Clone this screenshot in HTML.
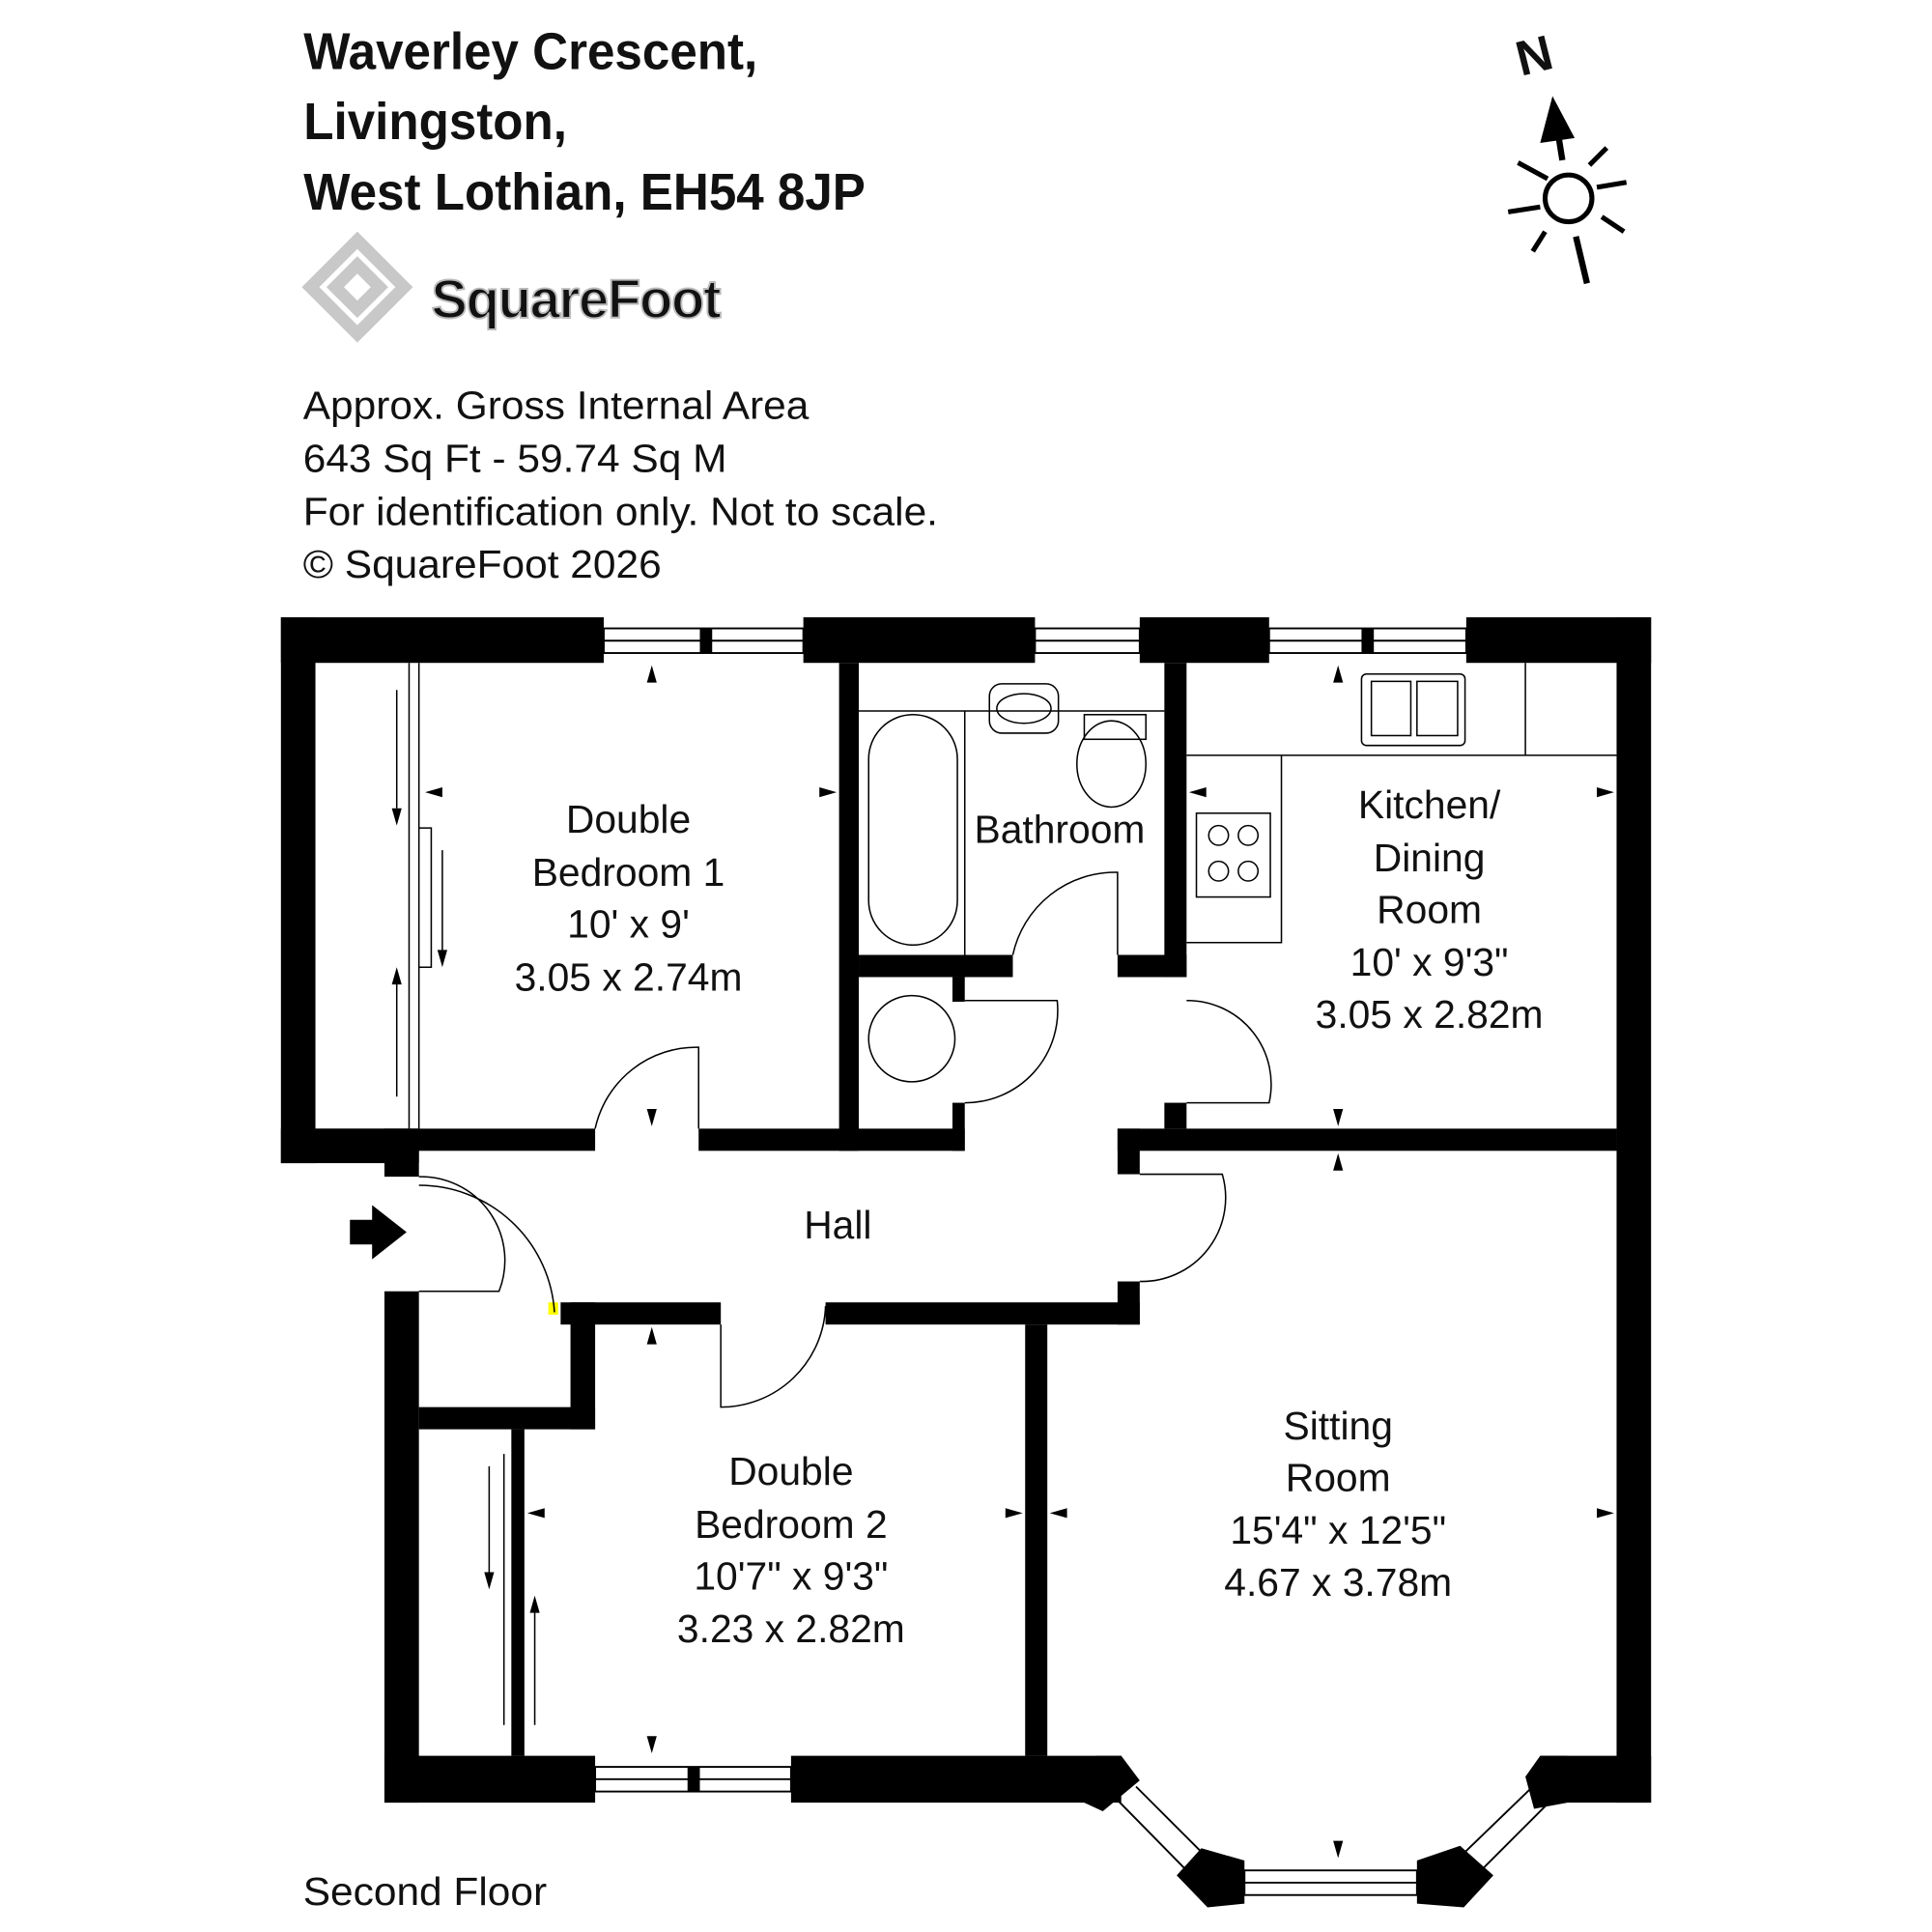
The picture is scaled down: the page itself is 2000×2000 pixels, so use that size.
<!DOCTYPE html>
<html><head><meta charset="utf-8"><style>
html,body{margin:0;padding:0;background:#fff}
svg{display:block}
text{font-family:"Liberation Sans",sans-serif;fill:#111}
</style></head><body>
<svg width="2000" height="2000" viewBox="0 0 1568 1568" xmlns="http://www.w3.org/2000/svg">
<rect width="1568" height="1568" fill="#fff"/>
<g font-weight="bold" font-size="42" transform="scale(0.955,1)">
<text x="258" y="56">Waverley Crescent,</text>
<text x="258" y="113">Livingston,</text>
<text x="258" y="170">West Lothian, EH54 8JP</text>
</g>
<g fill="none" stroke="#c8c8c8" stroke-width="10">
<path d="M290 195 L328 233 L290 271 L252 233 Z"/>
<path d="M290 215 L308 233 L290 251 L272 233 Z"/>
</g>
<text x="350" y="258" font-size="44" font-weight="bold" fill="#ddd" stroke="#bbb" stroke-width="1.5" letter-spacing="-1">SquareFoot</text>
<g font-size="32" transform="scale(1.04,1)">
<text x="236.5" y="340">Approx. Gross Internal Area</text>
<text x="236.5" y="383">643 Sq Ft  -  59.74 Sq M</text>
<text x="236.5" y="426">For identification only. Not to scale.</text>
<text x="236.5" y="469">© SquareFoot 2026</text>
<text x="236.5" y="1546">Second Floor</text>
</g>
<text x="1230" y="58" font-size="40" font-weight="bold" transform="rotate(-14 1248 42)">N</text>
<line x1="1264" y1="105" x2="1268" y2="130" stroke="#000" stroke-width="5"/>
<line x1="1279" y1="192" x2="1288" y2="230" stroke="#000" stroke-width="5"/>
<path d="M1260 78 L1278 112 L1250 116 Z" fill="#000"/>
<circle cx="1273" cy="161" r="19" fill="none" stroke="#000" stroke-width="4"/>
<g stroke="#000" stroke-width="4">
<line x1="1296" y1="152" x2="1320" y2="148"/><line x1="1300" y1="176" x2="1318" y2="188"/>
<line x1="1250" y1="168" x2="1224" y2="172"/><line x1="1256" y1="145" x2="1232" y2="132"/>
<line x1="1290" y1="134" x2="1304" y2="120"/><line x1="1254" y1="188" x2="1244" y2="204"/>
</g>
<g fill="#000">
<rect x="228" y="501" width="262" height="37"/>
<rect x="652" y="501" width="188" height="37"/>
<rect x="925" y="501" width="105" height="37"/>
<rect x="1190" y="501" width="150" height="37"/>
<rect x="228" y="501" width="28" height="443"/>
<rect x="228" y="916" width="112" height="28"/>
<rect x="312" y="916" width="28" height="39"/>
<rect x="256" y="916" width="227" height="18"/>
<rect x="567" y="916" width="216" height="18"/>
<rect x="681" y="538" width="16" height="396"/>
<rect x="945" y="538" width="18" height="255"/>
<rect x="945" y="895" width="18" height="21"/>
<rect x="697" y="775" width="125" height="18"/>
<rect x="907" y="775" width="56" height="18"/>
<rect x="773" y="793" width="10" height="20"/>
<rect x="773" y="895" width="10" height="39"/>
<rect x="1312" y="501" width="28" height="962"/>
<rect x="907" y="916" width="405" height="18"/>
<rect x="907" y="916" width="18" height="37"/>
<rect x="907" y="1040" width="18" height="35"/>
<rect x="455" y="1057" width="130" height="18"/>
<rect x="670" y="1057" width="255" height="18"/>
<rect x="832" y="1075" width="18" height="350"/>
<rect x="312" y="1048" width="28" height="415"/>
<rect x="312" y="1425" width="171" height="38"/>
<rect x="642" y="1425" width="268" height="38"/>
<rect x="463" y="1057" width="20" height="103"/>
<rect x="340" y="1142" width="143" height="18"/>
<rect x="415" y="1160" width="10" height="265"/>
<rect x="1250" y="1425" width="90" height="38"/>
<path d="M890 1425 L910 1425 L925 1445 L895 1470 L880 1463 Z"/>
<path d="M975 1500 L1010 1510 L1010 1545 L980 1548 L955 1522 Z"/>
<path d="M1150 1510 L1185 1498 L1212 1522 L1188 1548 L1150 1545 Z"/>
<path d="M1250 1425 L1272 1425 L1272 1463 L1245 1468 L1238 1442 Z"/>
</g>
<rect x="445" y="1057" width="8" height="10" fill="#ff0"/>
<g fill="none" stroke="#000" stroke-width="1.5">
<rect x="490" y="510" width="162" height="20"/><line x1="490" y1="520" x2="652" y2="520"/>
<rect x="840" y="510" width="85" height="20"/><line x1="840" y1="520" x2="925" y2="520"/>
<rect x="1030" y="510" width="160" height="20"/><line x1="1030" y1="520" x2="1190" y2="520"/>
<rect x="483" y="1434" width="159" height="20"/><line x1="483" y1="1444" x2="642" y2="1444"/>
<rect x="1010" y="1518" width="140" height="20"/><line x1="1010" y1="1528" x2="1150" y2="1528"/>
<path d="M908 1462 L965 1520 M922 1450 L978 1506"/>
<path d="M1200 1520 L1258 1462 M1186 1506 L1244 1450"/>
</g>
<g fill="#000"><rect x="568" y="510" width="10" height="20"/><rect x="1105" y="510" width="10" height="20"/><rect x="558" y="1434" width="10" height="20"/></g>
<g fill="none" stroke="#000" stroke-width="1.2">
<line x1="332" y1="538" x2="332" y2="916"/><line x1="340" y1="538" x2="340" y2="916"/>
<path d="M340 672 H350 V785 H340"/>
<rect x="705" y="580" width="72" height="187" rx="36"/>
<line x1="697" y1="577" x2="945" y2="577"/><line x1="783" y1="577" x2="783" y2="775"/>
<rect x="803" y="555" width="56" height="40" rx="10"/><ellipse cx="831" cy="575" rx="22" ry="12"/>
<rect x="880" y="580" width="50" height="20"/><ellipse cx="902" cy="620" rx="28" ry="35"/>
<circle cx="740" cy="843" r="35"/>
<path d="M822 775 A85 85 0 0 1 907 708 V775"/>
<path d="M783 895 A75 75 0 0 0 858 812 H783"/>
<path d="M963 812 A68 68 0 0 1 1030 895 H963"/>
<path d="M483 916 A84 84 0 0 1 567 850 V916"/>
<path d="M925 1040 A68 68 0 0 0 992 953 H925"/>
<path d="M585 1075 V1142 A85 85 0 0 0 670 1060"/>
<path d="M340 955 A68 68 0 0 1 405 1048 H340"/>
<path d="M340 962 A110 110 0 0 1 450 1065"/>
<rect x="1105" y="547" width="84" height="58" rx="4"/><rect x="1113" y="553" width="32" height="44"/><rect x="1150" y="553" width="33" height="44"/>
<path d="M963 613 H1312 M1238 538 V613 M1040 613 V765 H963"/>
<rect x="971" y="660" width="60" height="68"/>
<circle cx="989" cy="678" r="8"/><circle cx="1013" cy="678" r="8"/><circle cx="989" cy="707" r="8"/><circle cx="1013" cy="707" r="8"/>
<line x1="409" y1="1180" x2="409" y2="1400"/><line x1="425" y1="1160" x2="425" y2="1425"/>
</g>
<g fill="#000">
<path d="M529 540 l-4 14 h8 Z"/><path d="M529 914 l-4 -14 h8 Z"/>
<path d="M345 643 l14 -4 v8 Z"/><path d="M679 643 l-14 -4 v8 Z"/>
<path d="M1086 540 l-4 14 h8 Z"/><path d="M1086 914 l-4 -14 h8 Z"/><path d="M1086 936 l-4 14 h8 Z"/>
<path d="M965 643 l14 -4 v8 Z"/><path d="M1310 643 l-14 -4 v8 Z"/>
<path d="M529 1077 l-4 14 h8 Z"/><path d="M529 1423 l-4 -14 h8 Z"/>
<path d="M428 1228 l14 -4 v8 Z"/><path d="M830 1228 l-14 -4 v8 Z"/>
<path d="M852 1228 l14 -4 v8 Z"/><path d="M1310 1228 l-14 -4 v8 Z"/>
<path d="M1086 1508 l-4 -14 h8 Z"/>
<path d="M322 670 l-4 -14 h8 Z"/><path d="M359 785 l-4 -14 h8 Z"/><path d="M322 785 l-4 14 h8 Z"/>
<path d="M397 1290 l-4 -14 h8 Z"/><path d="M434 1295 l-4 14 h8 Z"/>
<path d="M284 990 h18 v-12 l28 22 l-28 22 v-12 h-18 Z"/>
</g>
<g stroke="#000" stroke-width="1.2"><line x1="322" y1="560" x2="322" y2="656"/><line x1="359" y1="690" x2="359" y2="772"/><line x1="322" y1="798" x2="322" y2="890"/><line x1="397" y1="1190" x2="397" y2="1276"/><line x1="434" y1="1308" x2="434" y2="1400"/></g>
<g font-size="32" text-anchor="middle">
<text x="510" y="676">Double</text><text x="510" y="719">Bedroom 1</text><text x="510" y="761">10' x 9'</text><text x="510" y="804">3.05 x 2.74m</text>
<text x="860" y="684">Bathroom</text>
<text x="1160" y="664">Kitchen/</text><text x="1160" y="707">Dining</text><text x="1160" y="749">Room</text><text x="1160" y="792">10' x 9'3"</text><text x="1160" y="834">3.05 x 2.82m</text>
<text x="680" y="1005">Hall</text>
<text x="642" y="1205">Double</text><text x="642" y="1248">Bedroom 2</text><text x="642" y="1290">10'7" x 9'3"</text><text x="642" y="1333">3.23 x 2.82m</text>
<text x="1086" y="1168">Sitting</text><text x="1086" y="1210">Room</text><text x="1086" y="1253">15'4" x 12'5"</text><text x="1086" y="1295">4.67 x 3.78m</text>
</g>
</svg>
</body></html>
